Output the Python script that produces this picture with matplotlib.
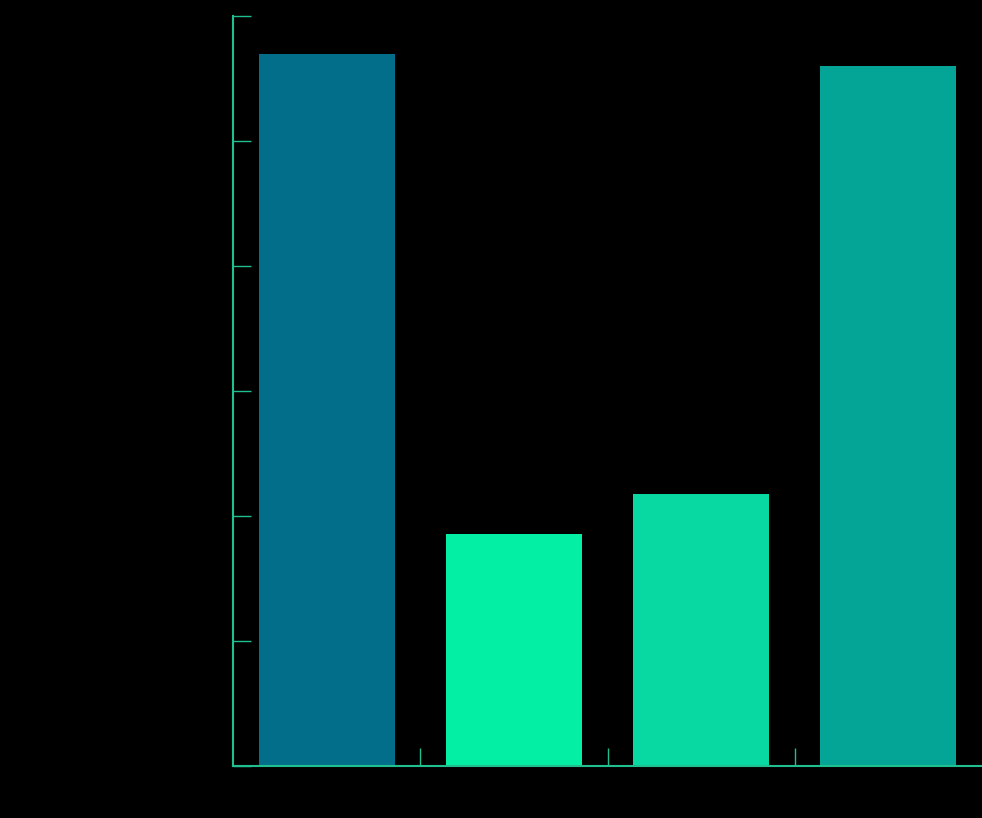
import numpy as np
import matplotlib.pyplot as plt

categories = ["A", "B", "C", "D"]
values = [57.0, 18.6, 21.8, 56.0]
colors = ["#026e8a", "#03f0a4", "#08d8a1", "#04a597"]
y_ticks = [0, 10, 20, 30, 40, 50, 60]
axis_color = "#1fbf8f"

fig = plt.figure(figsize=(9.82, 8.18), dpi=100, facecolor="black")
ax = fig.add_axes([233 / 982, 52 / 818, 1 - 233 / 982, 750 / 818])
ax.set_facecolor("black")

x = np.arange(len(categories))
ax.bar(x, values, width=0.725, color=colors)

ax.set_xlim(-0.5, len(categories) - 0.5)
ax.set_ylim(0, 60)
ax.set_yticks(y_ticks)
ax.set_yticklabels([])
ax.set_xticks(x[:-1] + 0.5)
ax.set_xticklabels([])

for side in ["top", "right"]:
    ax.spines[side].set_visible(False)
for side in ["left", "bottom"]:
    ax.spines[side].set_color(axis_color)
    ax.spines[side].set_linewidth(1.5)
ax.tick_params(axis="both", direction="in", length=13, width=1, color=axis_color)

fig.savefig("out.png", dpi=100, facecolor="black")
